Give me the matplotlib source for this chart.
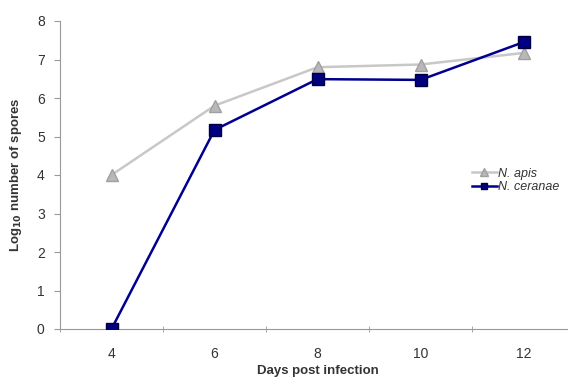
import numpy as np
import matplotlib
matplotlib.use("Agg")
import matplotlib.pyplot as plt

plt.rcParams['font.family'] = ['Liberation Sans', 'DejaVu Sans']

# データ
days = ["4", "6", "8", "10", "12"]
apis = [4.0, 5.8, 6.8, 6.87, 7.17]
ceranae = [0.0, 5.17, 6.49, 6.47, 7.45]

fig = plt.figure(figsize=(5.68, 3.8), dpi=100)
ax = fig.add_axes([60 / 568, 51 / 380, 515 / 568, 308 / 380])

x = np.arange(len(days))
ax.plot(x, apis, color="#c8c8c8", lw=1.8, marker="^", ms=9,
        mfc="#b8b8b8", mec="#a0a0a0", label="N. apis", zorder=2)
ax.plot(x, ceranae, color="#000090", lw=1.8, marker="s", ms=8,
        mfc="#000080", mec="#000040", label="N. ceranae", zorder=3)

ax.set_xlim(-0.5, len(days) - 0.5)
ax.set_ylim(0, 8)
ax.set_xticks(x)
ax.set_xticklabels(days)
ax.set_xticks(np.arange(-0.5, len(days)), minor=True)
ax.tick_params(axis="x", which="major", length=0, pad=13, labelsize=10, colors="#333333")
ax.tick_params(axis="x", which="minor", length=4, color="#999999", direction="inout")
ax.set_yticks(range(0, 9))
ax.tick_params(axis="y", length=4, color="#999999", labelsize=10, labelcolor="#333333", pad=7)

for s in ["top", "right"]:
    ax.spines[s].set_visible(False)
for s in ["left", "bottom"]:
    ax.spines[s].set_color("#999999")

ax.set_xlabel("Days post infection", fontsize=9.5, fontweight="bold", color="#333333", labelpad=3)
ax.set_ylabel(r"Log$_{\mathbf{10}}$ number of spores", fontsize=9.5, fontweight="bold", color="#333333", labelpad=9)

leg = ax.legend(loc="upper left", bbox_to_anchor=(0.778, 0.56), frameon=False,
                prop={"style": "italic", "size": 9}, handlelength=2.0,
                handletextpad=0.1, labelspacing=0.1, markerscale=0.6)
for t in leg.get_texts():
    t.set_color("#333333")

fig.savefig("out.png", dpi=100)
